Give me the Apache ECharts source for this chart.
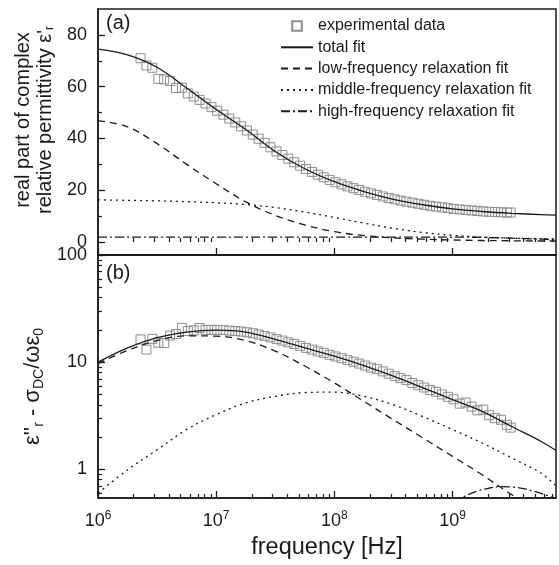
<!DOCTYPE html>
<html>
<head>
<meta charset="utf-8">
<script src="https://cdn.jsdelivr.net/npm/echarts@6/dist/echarts.min.js"></script>
<style>
  html, body { margin: 0; padding: 0; background: #fff; }
  #chart { width: 559px; height: 565px; }
</style>
</head>
<body>
<div id="chart"></div>
<script>
// measured points [Hz]
const expFreq = [2.29e6, 2.57e6, 2.88e6, 3.24e6, 3.63e6, 4.07e6, 4.57e6, 5.13e6, 5.75e6, 6.46e6, 7.24e6, 8.13e6, 9.12e6,
  1.02e7, 1.15e7, 1.29e7, 1.45e7, 1.62e7, 1.82e7, 2.04e7, 2.29e7, 2.57e7, 2.88e7, 3.24e7, 3.63e7, 4.07e7, 4.57e7, 5.13e7, 5.75e7, 6.46e7, 7.24e7, 8.13e7, 9.12e7,
  1.02e8, 1.15e8, 1.29e8, 1.45e8, 1.62e8, 1.82e8, 2.04e8, 2.29e8, 2.57e8, 2.88e8, 3.24e8, 3.63e8, 4.07e8, 4.57e8, 5.13e8, 5.75e8, 6.46e8, 7.24e8, 8.13e8, 9.12e8,
  1.02e9, 1.15e9, 1.29e9, 1.45e9, 1.62e9, 1.82e9, 2.04e9, 2.29e9, 2.57e9, 2.88e9, 3.1e9];
const expReal = [71.0, 68.2, 67.3, 63.0, 62.8, 62.2, 59.5, 59.6, 57.4, 56.2, 54.9, 53.5, 52.1,
  50.7, 49.2, 47.7, 46.2, 44.7, 43.1, 41.5, 39.9, 38.3, 36.6, 35.0, 33.6, 32.2, 30.8, 29.5, 28.2, 27.1, 26.0, 25.0, 24.0,
  23.1, 22.3, 21.5, 20.8, 20.1, 19.4, 18.8, 18.2, 17.6, 17.0, 16.5, 16.0, 15.6, 15.2, 14.8, 14.4, 14.0, 13.7, 13.4, 13.1,
  12.8, 12.6, 12.4, 12.2, 12.0, 11.8, 11.7, 11.6, 11.5, 11.4, 11.4];
const expImag = [16.3, 13.1, 16.5, 15.2, 15.1, 17.7, 18.3, 20.9, 19.5, 19.8, 20.8, 20.0, 20.0,
  20.0, 19.9, 19.7, 19.5, 19.3, 19.0, 18.6, 18.1, 17.6, 17.0, 16.4, 15.9, 15.3, 14.8, 14.2, 13.6, 13.1, 12.6, 12.2, 11.7,
  11.3, 10.9, 10.5, 10.1, 9.7, 9.3, 8.9, 8.6, 8.2, 7.8, 7.4, 7.1, 6.8, 6.4, 6.1, 5.8, 5.5, 5.3, 5.0, 4.75,
  4.5, 4.1, 4.2, 3.85, 3.55, 3.6, 3.2, 3.0, 2.9, 2.6, 2.45];

// fit curves, read every quarter decade
const fitFreq = [1e6, 1.78e6, 3.16e6, 5.62e6, 1e7, 1.78e7, 3.16e7, 5.62e7, 1e8, 1.78e8, 3.16e8, 5.62e8, 1e9, 1.78e9, 3.16e9, 5.62e9, 7.5e9];
const totalReal = [74.5, 72.3, 67.5, 59.5, 51.2, 43.5, 35.0, 28.3, 23.3, 19.5, 16.5, 14.4, 12.8, 11.8, 11.1, 10.6, 10.4];
const lowReal = [46.9, 44.5, 38.0, 30.0, 22.5, 15.5, 10.3, 6.6, 4.0, 2.5, 1.6, 1.1, 0.8, 0.6, 0.5, 0.4, 0.4];
const midReal = [16.3, 16.1, 15.9, 15.6, 15.2, 14.5, 13.3, 11.6, 9.5, 7.3, 5.3, 3.7, 2.6, 1.9, 1.5, 1.3, 1.2];
const highReal = [1.9, 1.9, 1.9, 1.9, 1.9, 1.9, 1.9, 1.9, 1.9, 1.9, 1.9, 1.9, 1.9, 1.8, 1.5, 1.1, 0.9];
const totalImag = [10.0, 13.6, 16.9, 19.1, 19.9, 19.1, 16.3, 13.6, 11.4, 9.3, 7.4, 5.75, 4.48, 3.48, 2.51, 1.82, 1.5];
const lowImag = [9.7, 12.9, 15.9, 17.6, 17.5, 15.9, 12.7, 9.2, 6.4, 4.3, 2.9, 1.96, 1.32, 0.89, 0.58, 0.40, 0.33];
const midImag = [0.6, 0.99, 1.52, 2.35, 3.24, 4.17, 4.8, 5.2, 5.25, 4.8, 4.0, 3.1, 2.35, 1.76, 1.28, 0.92, 0.7];
const highImagFreq = [1e9, 1.26e9, 1.58e9, 2e9, 2.51e9, 3.16e9, 3.98e9, 5.01e9, 6.31e9, 7.5e9];
const highImag = [0.50, 0.56, 0.62, 0.665, 0.69, 0.685, 0.66, 0.62, 0.57, 0.53];

// tick values
const xMajor = [1e6, 1e7, 1e8, 1e9];
const xMinor = [2e6, 3e6, 4e6, 5e6, 6e6, 7e6, 8e6, 9e6, 2e7, 3e7, 4e7, 5e7, 6e7, 7e7, 8e7, 9e7,
  2e8, 3e8, 4e8, 5e8, 6e8, 7e8, 8e8, 9e8, 2e9, 3e9, 4e9, 5e9, 6e9, 7e9];
const realMajor = [0, 20, 40, 60, 80];
const realMinor = [10, 30, 50, 70];
const imagMajor = [1, 10, 100];
const imagMinor = [0.6, 0.7, 0.8, 0.9, 2, 3, 4, 5, 6, 7, 8, 9, 20, 30, 40, 50, 60, 70, 80, 90];

const names = ['experimental data', 'total fit', 'low-frequency relaxation fit',
  'middle-frequency relaxation fit', 'high-frequency relaxation fit'];

const ink = '#1a1a1a';
const font = 'Liberation Sans, Arial, sans-serif';
const pair = (xs, ys) => xs.map((x, i) => [x, ys[i]]);

function majorAxis(kind, grid, extra) {
  return Object.assign({
    gridIndex: grid,
    axisLine: { show: true, onZero: false, lineStyle: { color: ink, width: 1.5 } },
    splitLine: { show: false },
    axisTick: { inside: true, length: 7, lineStyle: { color: ink, width: 1.3 } },
    axisLabel: { color: ink, fontFamily: font, fontSize: 18 }
  }, kind, extra);
}
function minorAxis(kind, grid, values) {
  return Object.assign({
    gridIndex: grid,
    axisLine: { show: false },
    splitLine: { show: false },
    axisTick: { inside: true, length: 4, customValues: values, lineStyle: { color: ink, width: 1.2 } },
    axisLabel: { show: false }
  }, kind);
}
const xKind = { type: 'log', logBase: 10, min: 1e6, max: 7.5e9, position: 'bottom' };
const expLabel = (v) => '{b|10}{s|' + Math.round(Math.log10(v)) + '}';

const chart = echarts.init(document.getElementById('chart'));

const lineBase = (name, x, y, data, dash) => ({
  type: 'line', name, xAxisIndex: x, yAxisIndex: y, data,
  symbol: 'none', smooth: 0.35, z: 3,
  lineStyle: { color: ink, width: 1.3, type: dash },
  itemStyle: { color: ink }
});
const expSeries = (x, y, data) => ({
  type: 'line', name: names[0], xAxisIndex: x, yAxisIndex: y, data,
  symbol: 'rect', symbolSize: 9, showAllSymbol: true, z: 2,
  lineStyle: { width: 0, opacity: 0 },
  itemStyle: { color: 'rgba(255,255,255,0)', borderColor: '#8c8c8c', borderWidth: 1 }
});

// legend entries: fits show only their line
const legendData = names.map((n, i) => i === 0 ? { name: n } : { name: n, itemStyle: { opacity: 0 } });

chart.setOption({
  animation: false,
  backgroundColor: '#fff',
  textStyle: { fontFamily: font },
  grid: [
    { left: 98, right: 3, top: 9, height: 246, show: true, borderColor: ink, borderWidth: 1.5 },
    { left: 98, right: 3, top: 255, height: 243, show: true, borderColor: ink, borderWidth: 1.5 }
  ],
  legend: {
    data: legendData, orient: 'vertical', left: 275, top: 13,
    itemWidth: 32, itemHeight: 12, itemGap: 5.3,
    textStyle: { color: ink, fontSize: 16, lineHeight: 16, fontFamily: font }
  },
  graphic: [
    { type: 'text', left: 106, top: 13, style: { text: '(a)', font: '20px ' + font, fill: ink } },
    { type: 'text', left: 106, top: 263, style: { text: '(b)', font: '20px ' + font, fill: ink } }
  ],
  xAxis: [
    majorAxis(xKind, 0, { axisTick: { inside: true, length: 7, customValues: xMajor, lineStyle: { color: ink, width: 1.3 } }, axisLabel: { show: false } }),
    minorAxis(xKind, 0, xMinor),
    majorAxis(xKind, 1, {
      axisTick: { inside: true, length: 7, customValues: xMajor, lineStyle: { color: ink, width: 1.3 } },
      axisLabel: {
        customValues: xMajor, margin: 12, formatter: expLabel, color: ink,
        rich: { b: { fontSize: 18, lineHeight: 22, fontFamily: font, color: ink },
                s: { fontSize: 12, lineHeight: 12, verticalAlign: 'top', fontFamily: font, color: ink } }
      },
      name: 'frequency [Hz]', nameLocation: 'middle', nameGap: 38,
      nameTextStyle: { fontSize: 23.5, color: ink, fontFamily: font }
    }),
    minorAxis(xKind, 1, xMinor)
  ],
  yAxis: [
    majorAxis({ type: 'value', min: -5, max: 90, position: 'left' }, 0, {
      axisTick: { inside: true, length: 7, customValues: realMajor, lineStyle: { color: ink, width: 1.3 } },
      axisLabel: { customValues: realMajor, margin: 11, color: ink, fontSize: 18, fontFamily: font },
      name: '{n|real part of complex}\n{n|relative permittivity ε\'}{s|r}',
      nameLocation: 'middle', nameGap: 36,
      nameTextStyle: {
        padding: [0, 0, 0, 24],
        rich: { n: { fontSize: 20, lineHeight: 22, color: ink, fontFamily: font },
                s: { fontSize: 12, lineHeight: 12, verticalAlign: 'bottom', color: ink, fontFamily: font } }
      }
    }),
    minorAxis({ type: 'value', min: -5, max: 90, position: 'left' }, 0, realMinor),
    majorAxis({ type: 'log', logBase: 10, min: 0.54, max: 100, position: 'left' }, 1, {
      axisTick: { inside: true, length: 7, customValues: imagMajor, lineStyle: { color: ink, width: 1.3 } },
      axisLabel: { customValues: imagMajor, margin: 11, color: ink, fontSize: 18, fontFamily: font },
      name: '{n|ε\'\'}{s|r}{n| - σ}{s|DC}{n|/ωε}{s|0}',
      nameLocation: 'middle', nameGap: 46,
      nameTextStyle: {
        padding: [0, 20, 0, 0],
        rich: { n: { fontSize: 22, lineHeight: 26, color: ink, fontFamily: font },
                s: { fontSize: 14, lineHeight: 14, verticalAlign: 'bottom', color: ink, fontFamily: font } }
      }
    }),
    minorAxis({ type: 'log', logBase: 10, min: 0.54, max: 100, position: 'left' }, 1, imagMinor)
  ],
  series: [
    expSeries(0, 0, pair(expFreq, expReal)),
    lineBase(names[1], 0, 0, pair(fitFreq, totalReal), 'solid'),
    lineBase(names[2], 0, 0, pair(fitFreq, lowReal), [7, 5]),
    lineBase(names[3], 0, 0, pair(fitFreq, midReal), [2, 4]),
    lineBase(names[4], 0, 0, pair(fitFreq, highReal), [9, 3, 2, 3]),
    expSeries(2, 2, pair(expFreq, expImag)),
    lineBase(names[1], 2, 2, pair(fitFreq, totalImag), 'solid'),
    lineBase(names[2], 2, 2, pair(fitFreq, lowImag), [7, 5]),
    lineBase(names[3], 2, 2, pair(fitFreq, midImag), [2, 4]),
    lineBase(names[4], 2, 2, pair(highImagFreq, highImag), [9, 3, 2, 3])
  ]
});
</script>
</body>
</html>
